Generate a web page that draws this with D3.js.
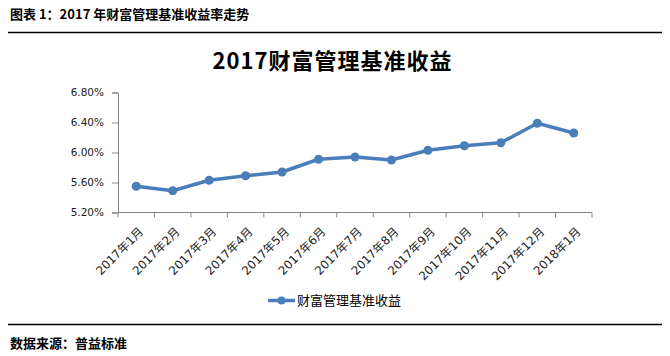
<!DOCTYPE html>
<html>
<head>
<meta charset="utf-8">
<script src="https://cdn.jsdelivr.net/npm/d3@7"></script>
<style>
html, body { margin: 0; padding: 0; background: #fff; }
svg { display: block; }
</style>
</head>
<body>
<svg id="chart" width="670" height="356"></svg>
<script>
const months = ["2017年1月","2017年2月","2017年3月","2017年4月","2017年5月","2017年6月","2017年7月","2017年8月","2017年9月","2017年10月","2017年11月","2017年12月","2018年1月"];
const values = [5.55, 5.49, 5.63, 5.69, 5.74, 5.91, 5.94, 5.90, 6.03, 6.09, 6.13, 6.39, 6.26];
const yTicks = [5.2, 5.6, 6.0, 6.4, 6.8];
const seriesName = "财富管理基准收益";
const headerText = "图表 1：2017 年财富管理基准收益率走势";
const titleText = "2017财富管理基准收益";
const sourceText = "数据来源：普益标准";

const svg = d3.select("#chart");
const color = "#4a7ebb";
const axisColor = "#868686";
const cjk = "'Noto Sans CJK SC', sans-serif";
const mixed = "'DejaVu Sans', 'Noto Sans CJK SC', sans-serif";

// header
svg.append("text").attr("x", 10).attr("y", 19)
  .attr("font-family", cjk).attr("font-weight", "bold").attr("font-size", 13)
  .attr("fill", "#000").text(headerText);
svg.append("line").attr("x1", 8).attr("x2", 662).attr("y1", 32.5).attr("y2", 32.5)
  .attr("stroke", "#000").attr("stroke-width", 1.5);

// title
svg.append("text").attr("x", 332).attr("y", 69)
  .attr("text-anchor", "middle")
  .attr("font-family", cjk).attr("font-weight", "bold").attr("font-size", 22)
  .attr("textLength", 239).attr("lengthAdjust", "spacing")
  .attr("fill", "#000").text(titleText);

const x = d3.scaleBand().domain(months).range([118, 592]);
const y = d3.scaleLinear().domain([5.2, 6.8]).range([212.5, 92.5]);

// y axis
const yAxis = svg.append("g").attr("transform", "translate(118,0)")
  .call(d3.axisLeft(y).tickValues(yTicks).tickSize(6).tickPadding(8)
    .tickFormat(d => d.toFixed(2) + "%"));
yAxis.selectAll("path,line").attr("stroke", axisColor);
yAxis.selectAll("text").attr("font-family", mixed).attr("font-size", 10.5).attr("fill", "#222");

// x axis
const xg = svg.append("g").attr("transform", "translate(0,212.5)");
xg.append("line").attr("x1", 118).attr("x2", 592).attr("stroke", axisColor);
const bounds = months.map(m => x(m)).concat([x(months[months.length-1]) + x.bandwidth()]);
xg.selectAll("line.tk").data(bounds).enter().append("line")
  .attr("class", "tk")
  .attr("x1", d => d).attr("x2", d => d).attr("y1", 0).attr("y2", 5)
  .attr("stroke", axisColor);
xg.selectAll("text").data(months).enter().append("text")
  .attr("transform", d => `translate(${x(d) + x.bandwidth()/2 + 5},${17}) rotate(-45)`)
  .attr("text-anchor", "end").attr("dy", "0.35em")
  .attr("font-family", mixed).attr("font-size", 11.8).attr("fill", "#222")
  .text(d => d);

// line
const line = d3.line().x((d, i) => x(months[i]) + x.bandwidth()/2).y(d => y(d));
svg.append("path").datum(values).attr("d", line)
  .attr("fill", "none").attr("stroke", color).attr("stroke-width", 3.5)
  .attr("stroke-linejoin", "round");
svg.selectAll("circle.pt").data(values).enter().append("circle")
  .attr("class", "pt")
  .attr("cx", (d, i) => x(months[i]) + x.bandwidth()/2)
  .attr("cy", d => y(d)).attr("r", 4.5).attr("fill", color);

// legend
svg.append("line").attr("x1", 268).attr("x2", 295).attr("y1", 300.5).attr("y2", 300.5)
  .attr("stroke", color).attr("stroke-width", 3.5);
svg.append("circle").attr("cx", 281.5).attr("cy", 300.5).attr("r", 4).attr("fill", color);
svg.append("text").attr("x", 297).attr("y", 300.5).attr("dy", "0.35em")
  .attr("font-family", cjk).attr("font-size", 13).attr("fill", "#000").text(seriesName);

// footer
svg.append("line").attr("x1", 8).attr("x2", 662).attr("y1", 324.5).attr("y2", 324.5)
  .attr("stroke", "#000").attr("stroke-width", 1.5);
svg.append("text").attr("x", 10).attr("y", 348)
  .attr("font-family", cjk).attr("font-weight", "bold").attr("font-size", 13)
  .attr("fill", "#000").text(sourceText);
</script>
</body>
</html>
